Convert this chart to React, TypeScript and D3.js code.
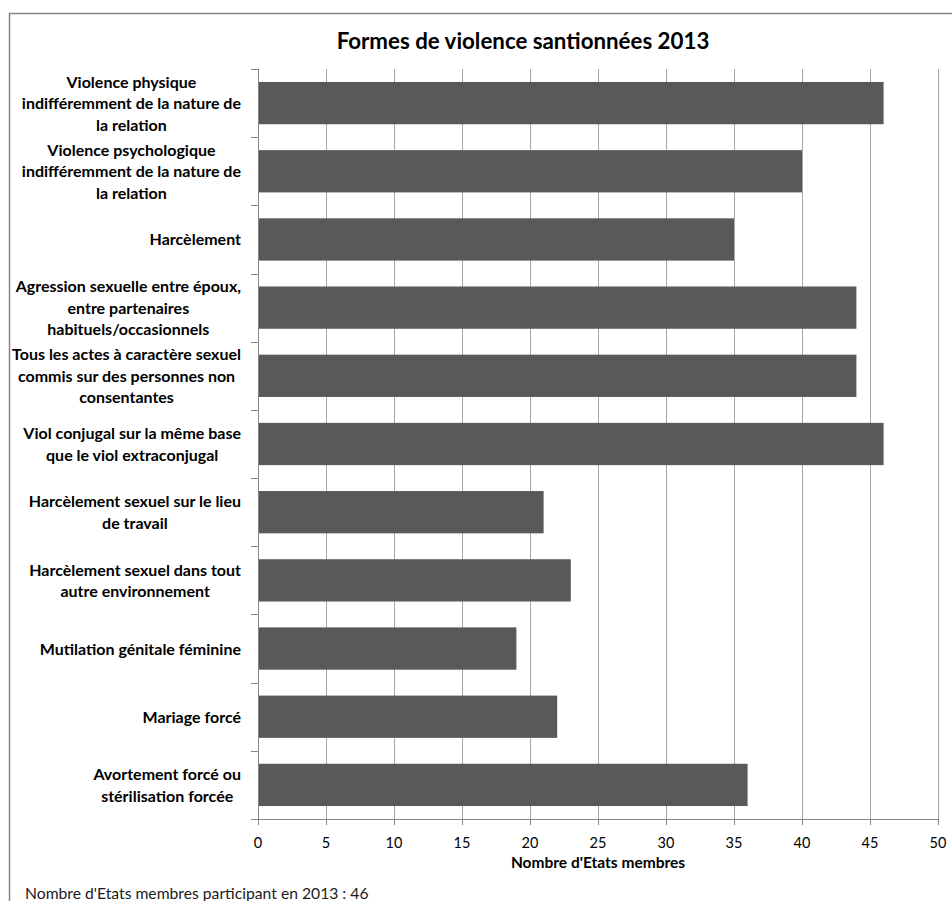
import React, { useEffect, useRef } from "react";
import * as d3 from "d3";

const categories: string[][] = [
  ["Violence physique", "indifféremment de la nature de", "la relation"],
  ["Violence psychologique", "indifféremment de la nature de", "la relation"],
  ["Harcèlement"],
  ["Agression sexuelle entre époux,", "entre partenaires", "habituels/occasionnels"],
  ["Tous les actes à caractère sexuel", "commis sur des personnes non", "consentantes"],
  ["Viol conjugal sur la même base", "que le viol extraconjugal"],
  ["Harcèlement sexuel sur le lieu", "de travail"],
  ["Harcèlement sexuel dans tout", "autre environnement"],
  ["Mutilation génitale féminine"],
  ["Mariage forcé"],
  ["Avortement forcé ou", "stérilisation forcée"],
];
const values: number[] = [46, 40, 35, 44, 44, 46, 21, 23, 19, 22, 36];
const xTicks: number[] = [0, 5, 10, 15, 20, 25, 30, 35, 40, 45, 50];
const title = "Formes de violence santionnées 2013";
const xTitle = "Nombre d'Etats membres";
const footnote = "Nombre d'Etats membres participant en 2013 : 46";

const W = 952;
const H = 901;
const FONT = "Lato, 'Open Sans', sans-serif";

export default function App() {
  const ref = useRef<SVGSVGElement | null>(null);

  useEffect(() => {
    const svg = d3.select(ref.current);
    svg.selectAll("*").remove();

    const left = 258, right = 938, top = 69, bottom = 819;
    const x = d3.scaleLinear().domain([0, 50]).range([left, right]);
    const idx = categories.map((_, i) => String(i));
    const y = d3.scaleBand().domain(idx).range([top, bottom]).paddingInner(0.38).paddingOuter(0.19);
    const yb = d3.scaleBand().domain(idx).range([top, bottom]);

    // frame
    svg.append("path")
      .attr("d", `M9.5,${H} L9.5,13.5 L${W},13.5`)
      .attr("fill", "none").attr("stroke", "#868686").attr("stroke-width", 1.5);

    // title
    svg.append("text").attr("x", 523).attr("y", 49)
      .attr("text-anchor", "middle").attr("font-family", FONT)
      .attr("font-weight", "bold").attr("font-size", 22.3).attr("fill", "#000")
      .text(title);

    // gridlines
    svg.append("g").selectAll("line").data(xTicks.slice(1)).join("line")
      .attr("x1", d => Math.round(x(d)) + 0.5).attr("x2", d => Math.round(x(d)) + 0.5)
      .attr("y1", top).attr("y2", bottom)
      .attr("stroke", "#a6a6a6").attr("stroke-width", 1);

    // bars
    svg.append("g").selectAll("rect").data(values).join("rect")
      .attr("x", x(0)).attr("y", (_, i) => y(String(i))!)
      .attr("width", d => x(d) - x(0)).attr("height", y.bandwidth())
      .attr("fill", "#595959");

    // y axis
    const g = svg.append("g");
    g.append("line").attr("x1", left + 0.5).attr("x2", left + 0.5)
      .attr("y1", top).attr("y2", bottom).attr("stroke", "#868686");
    const yTickPos = idx.map(d => yb(d)!).concat([bottom]);
    g.selectAll("line.yt").data(yTickPos).join("line").attr("class", "yt")
      .attr("x1", left - 7).attr("x2", left + 0.5)
      .attr("y1", d => Math.round(d) + 0.5).attr("y2", d => Math.round(d) + 0.5)
      .attr("stroke", "#868686");

    // x axis
    g.append("line").attr("x1", left).attr("x2", right + 0.5)
      .attr("y1", bottom + 0.5).attr("y2", bottom + 0.5).attr("stroke", "#868686");
    g.selectAll("line.xt").data(xTicks).join("line").attr("class", "xt")
      .attr("x1", d => Math.round(x(d)) + 0.5).attr("x2", d => Math.round(x(d)) + 0.5)
      .attr("y1", bottom).attr("y2", bottom + 6).attr("stroke", "#868686");
    g.selectAll("text.xl").data(xTicks).join("text").attr("class", "xl")
      .attr("x", d => x(d)).attr("y", 848)
      .attr("text-anchor", "middle").attr("font-family", FONT)
      .attr("font-size", 14.5).attr("fill", "#000").text(d => String(d));

    svg.append("text").attr("x", (left + right) / 2).attr("y", 868)
      .attr("text-anchor", "middle").attr("font-family", FONT)
      .attr("font-weight", "bold").attr("font-size", 15.5).attr("fill", "#000")
      .text(xTitle);

    // category labels
    const lineH = 21.5;
    const labelRight = 241;
    categories.forEach((lines, i) => {
      const cy = yb(String(i))! + yb.bandwidth() / 2;
      const t = svg.append("text").attr("font-family", FONT)
        .attr("font-weight", "bold").attr("font-size", 16).attr("fill", "#000")
        .attr("text-anchor", "middle");
      const n = lines.length;
      const spans = lines.map((ln, k) =>
        t.append("tspan").attr("x", 0)
          .attr("y", cy + (k - (n - 1) / 2) * lineH + 6).text(ln));
      let maxW = 0;
      spans.forEach(s => {
        const node = s.node() as SVGTextContentElement;
        maxW = Math.max(maxW, node.getComputedTextLength());
      });
      const cx = labelRight - maxW / 2;
      spans.forEach(s => s.attr("x", cx));
    });

    // footnote
    svg.append("text").attr("x", 25).attr("y", 899)
      .attr("font-family", FONT).attr("font-size", 15.7).attr("fill", "#1a1a1a")
      .text(footnote);
  }, []);

  return (
    <svg ref={ref} width={W} height={H}
      style={{ position: "absolute", left: 0, top: 0, background: "#fff" }} />
  );
}
